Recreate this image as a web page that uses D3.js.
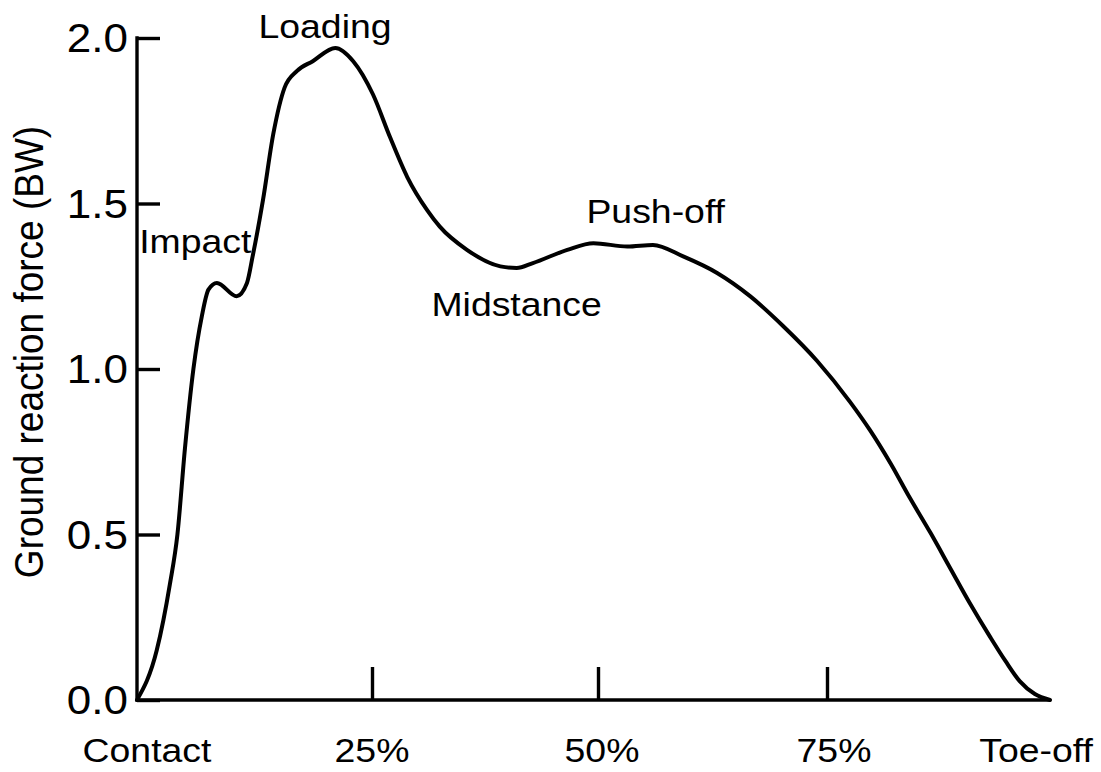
<!DOCTYPE html>
<html>
<head>
<meta charset="utf-8">
<script src="https://cdn.jsdelivr.net/npm/d3@7"></script>
<style>
  html, body { margin: 0; padding: 0; background: #fff; }
  svg text { font-family: "Liberation Sans", Arial, sans-serif; fill: #000; }
</style>
</head>
<body>
<svg id="chart" width="1101" height="772"></svg>
<script>
// ---- data ----
const stancePct = [0, 2.1, 3.5, 4.3, 5.1, 6.0, 6.9, 7.6, 8.5, 10.6, 11.7, 12.3, 13.4, 14.5, 15.7, 17.0, 18.7, 21.1, 23.0, 25.1, 27.0, 28.9, 31.1, 32.5, 35.5, 39.2, 41.0, 42.8, 46.6, 49.5, 53.2, 56.0, 59.3, 63.0, 66.6, 70.2, 73.9, 77.6, 79.8, 82.1, 84.3, 86.6, 88.8, 91.0, 93.3, 95.0, 96.6, 98.3, 100];
const forceBW = [0, 0.15, 0.35, 0.50, 0.76, 1.00, 1.16, 1.24, 1.26, 1.22, 1.26, 1.34, 1.51, 1.71, 1.85, 1.90, 1.93, 1.97, 1.93, 1.83, 1.70, 1.58, 1.48, 1.43, 1.36, 1.31, 1.305, 1.32, 1.36, 1.38, 1.37, 1.375, 1.34, 1.29, 1.22, 1.13, 1.025, 0.90, 0.816, 0.716, 0.610, 0.505, 0.399, 0.293, 0.190, 0.118, 0.057, 0.018, 0];
const yTicks = [0, 0.5, 1.0, 1.5, 2.0];
const xTicks = [0, 25, 50, 75, 100];
const xTickLabels = ["Contact", "25%", "50%", "75%", "Toe-off"];
const phaseLabels = ["Impact", "Loading", "Midstance", "Push-off"];
const phasePct = [6.2, 20.0, 41.0, 56.3];
const phaseBW = [1.35, 2.0, 1.16, 1.44];
const yLabel = "Ground reaction force (BW)";

// ---- layout ----
const svg = d3.select("#chart");
const x = d3.scaleLinear().domain([0, 25, 50, 75, 100]).range([137, 372, 598, 827, 1050]);
const y = d3.scaleLinear().domain([0, 2]).range([700, 38]);
const sx = 1.1; // horizontal text stretch

function stretchedText(g, tx, ty, str, size, anchor) {
  return g.append("text")
    .attr("transform", `translate(${tx},${ty}) scale(${sx},1)`)
    .attr("font-size", size)
    .attr("text-anchor", anchor || "middle")
    .text(str);
}

// x axis line with upward inner ticks
const xAxis = d3.axisBottom(x).tickValues([25, 50, 75]).tickSize(-33).tickFormat("").tickSizeOuter(0);
const gx = svg.append("g").attr("transform", `translate(0,${y(0)})`).call(xAxis);
gx.select(".domain").attr("stroke-width", 3.4).attr("d", `M${x(0)},0H${x(100)}`);
gx.selectAll(".tick line").attr("stroke-width", 3.4);

// y axis
const yAxis = d3.axisRight(y).tickValues(yTicks).tickSize(23).tickFormat("").tickSizeOuter(0);
const gy = svg.append("g").attr("transform", `translate(${x(0)},0)`).call(yAxis);
gy.select(".domain").attr("stroke-width", 3.4).attr("d", `M0,${y(0)+1.7}V${y(2)-1.7}`);
gy.selectAll(".tick line").attr("stroke-width", 3.4);

// y tick labels
const lab = svg.append("g");
yTicks.forEach(v => {
  stretchedText(lab, 128, y(v) + 14, d3.format(".1f")(v), 40, "end");
});

// x tick labels
const xLabelDx = [10, 0, 4, 7, -14];
xTicks.forEach((v, i) => {
  stretchedText(lab, x(v) + xLabelDx[i], 762, xTickLabels[i], 34, "middle");
});

// y axis title
svg.append("text")
  .attr("transform", `translate(43,352) rotate(-90) scale(1,1.08)`)
  .attr("font-size", 37)
  .attr("text-anchor", "middle")
  .text(yLabel);

// curve
const pts = stancePct.map((p, i) => [p, forceBW[i]]);
svg.append("path")
  .datum(pts)
  .attr("fill", "none")
  .attr("stroke", "#000")
  .attr("stroke-width", 4)
  .attr("stroke-linejoin", "round")
  .attr("stroke-linecap", "round")
  .attr("d", d3.line().x(d => x(d[0])).y(d => y(d[1])).curve(d3.curveMonotoneX));

// phase labels
phaseLabels.forEach((t, i) => {
  stretchedText(lab, x(phasePct[i]), y(phaseBW[i]), t, 34, "middle");
});
</script>
</body>
</html>
